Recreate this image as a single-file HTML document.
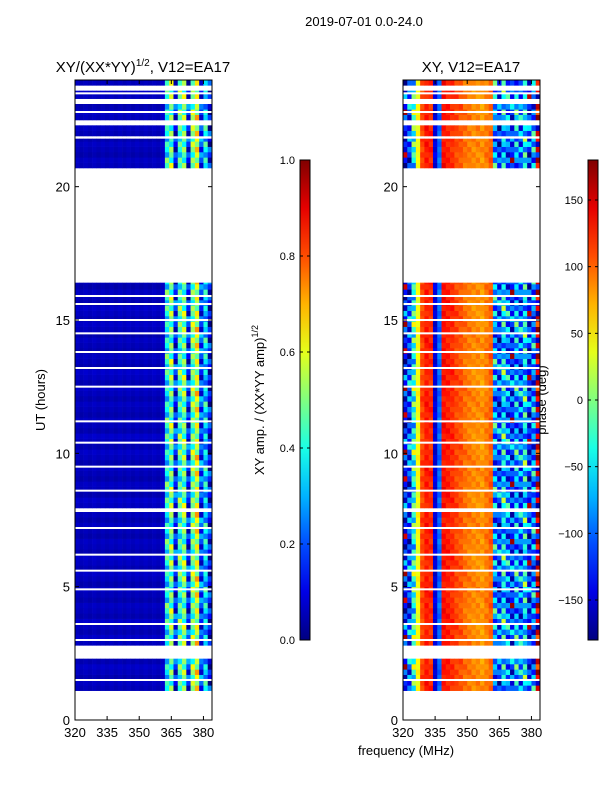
<!DOCTYPE html>
<html><head><meta charset="utf-8"><style>
body{margin:0;background:#fff;}
svg{font-family:"Liberation Sans","DejaVu Sans",sans-serif;}
</style></head><body>
<svg id="fig" width="600" height="800" xmlns="http://www.w3.org/2000/svg">
<rect width="600" height="800" fill="#fff"/>
<text x="364" y="26" font-size="13" text-anchor="middle">2019-07-01 0.0-24.0</text>
<text x="143" y="72" font-size="15" text-anchor="middle">XY/(XX*YY)<tspan font-size="10" dy="-6">1/2</tspan><tspan dy="6">, V12=EA17</tspan></text>
<text x="471" y="72" font-size="15" text-anchor="middle">XY, V12=EA17</text>
<text x="45" y="400" font-size="13" text-anchor="middle" transform="rotate(-90 45 400)">UT (hours)</text>
<text x="406" y="755" font-size="13" text-anchor="middle">frequency (MHz)</text>
<text x="264" y="400" font-size="13" text-anchor="middle" transform="rotate(-90 264 400)">XY amp. / (XX*YY amp)<tspan font-size="9" dy="-6">1/2</tspan></text>
<text x="546" y="400" font-size="13" text-anchor="middle" transform="rotate(-90 546 400)">phase (deg)</text>
<g id="left"></g>
<g id="right"></g>
<g id="cbs"></g>
</svg>
<script>
const freqBins=[320,322,324,326,328,330,332,334,336,338,340,342,344,346,348,350,352,354,356,358,360,362,364,366,368,370,372,374,376,378,380,382];
const ampProfile=[0.06,0.05,0.06,0.05,0.06,0.05,0.06,0.05,0.06,0.05,0.06,0.05,0.06,0.05,0.06,0.05,0.06,0.05,0.06,0.05,0.07,0.35,0.45,0.12,0.4,0.45,0.12,0.45,0.55,0.15,0.3,0.08];
const phaseProfile=[-150,-120,-40,40,110,125,120,-150,-100,130,125,120,110,105,95,90,85,85,80,90,100,-90,-120,-60,-100,-130,-80,-110,-60,-140,-100,160];
const validIntervals=[[1.1,2.3],[2.8,7.8],[7.95,16.4],[20.7,21.8],[21.9,22.3],[22.5,23.1],[23.3,23.6],[23.8,24]];
const thinGaps=[1.5,3.0,3.6,4.9,5.6,6.2,7.2,8.6,9.5,10.4,11.2,12.5,13.2,13.8,14.5,15.0,15.6,15.9,22.8,23.5];
const ampJitter=[0.0,0.1,-0.08,0.05,0.15,-0.05,0.08,0.18,-0.08,0.03,0.1,-0.1];
const phaseJitter=[0,30,-20,60,-40,15,90,-10,45,-30,20,-60];
const xTicks=[320,335,350,365,380];
const yTicks=[0,5,10,15,20];
const ampTicks=[0.0,0.2,0.4,0.6,0.8,1.0];
const phaseTicks=[-150,-100,-50,0,50,100,150];

const NS="http://www.w3.org/2000/svg";
function jet(t){t=Math.max(0,Math.min(1,t));
 const r=Math.max(0,Math.min(1,1.5-Math.abs(4*t-3))),g=Math.max(0,Math.min(1,1.5-Math.abs(4*t-2))),b=Math.max(0,Math.min(1,1.5-Math.abs(4*t-1)));
 return `rgb(${Math.round(r*255)},${Math.round(g*255)},${Math.round(b*255)})`;}
function el(tag,a,p){const e=document.createElementNS(NS,tag);for(const k in a)e.setAttribute(k,a[k]);p.appendChild(e);return e;}
const yTop=80,yBot=720;
const yScale=h=>yBot-(h/24)*(yBot-yTop);
function panel(gid,x0,x1,valFn){
 const g=document.getElementById(gid);
 const xs=f=>x0+(f-320)/64*(x1-x0);
 const dt=0.2;
 validIntervals.forEach(([a,b],ii)=>{
  for(let t=a,ri=0;t<b-1e-6;t+=dt,ri++){
   const t2=Math.min(b,t+dt);
   freqBins.forEach((f,i)=>{
    const r=el('rect',{x:xs(f),y:yScale(t2),width:xs(f+2)-xs(f)+0.3,height:yScale(t)-yScale(t2)+0.3,fill:valFn(i,ri+ii*3,t)},g);
    
    
   });
  }
 });
 thinGaps.forEach(h=>{const r=el('rect',{x:x0,y:yScale(h)-1,width:x1-x0,height:2,fill:'#fff'},g);
  });
 el('rect',{x:x0,y:yTop,width:x1-x0,height:yBot-yTop,fill:'none',stroke:'#000','stroke-width':1},g);
 xTicks.forEach(v=>{const x=xs(v);el('line',{x1:x,x2:x,y1:yBot,y2:yBot-4,stroke:'#000'},g);el('line',{x1:x,x2:x,y1:yTop,y2:yTop+4,stroke:'#000'},g);
  const t=el('text',{x:x,y:yBot+17,'font-size':13,'text-anchor':'middle'},g);t.textContent=v;
  });
 yTicks.forEach(v=>{const y=yScale(v);el('line',{x1:x0,x2:x0+4,y1:y,y2:y,stroke:'#000'},g);el('line',{x1:x1,x2:x1-4,y1:y,y2:y,stroke:'#000'},g);
  const t=el('text',{x:x0-5,y:y+5,'font-size':13,'text-anchor':'end'},g);t.textContent=v;
  });
}
panel('left',75,212,(i,ri,t)=>{let v=ampProfile[i];if(i>=21)v+=ampJitter[(ri+i)%ampJitter.length];else v+=ampJitter[ri%ampJitter.length]*0.1;return jet(v);});
panel('right',403,540,(i,ri,t)=>{let p=phaseProfile[i];const j=phaseJitter[(ri+i)%phaseJitter.length];p+= i>=21||i<3 ? j : j*0.15;
 while(p>180)p-=360;while(p<-180)p+=360;return jet((p+180)/360);});
function colorbar(x,vals,lo,hi,id,name){
 const g=document.getElementById('cbs');
 const d=el('defs',{},g);const lg=el('linearGradient',{id:id,x1:0,y1:1,x2:0,y2:0},d);
 for(let k=0;k<=10;k++)el('stop',{offset:k/10,'stop-color':jet(k/10)},lg);
 const r=el('rect',{x:x,y:160,width:10,height:480,fill:`url(#${id})`,stroke:'#000'},g);
 
 vals.forEach(v=>{const y=640-(v-lo)/(hi-lo)*480;el('line',{x1:x,x2:x+3,y1:y,y2:y,stroke:'#000'},g);el('line',{x1:x+10,x2:x+7,y1:y,y2:y,stroke:'#000'},g);
  const t=el('text',{x:x-5,y:y+4,'font-size':11,'text-anchor':'end'},g);t.textContent=(lo<0?String(v).replace('-','\u2212'):v.toFixed(1));
  });
}
colorbar(300,ampTicks,0,1,'g1','amplitude-colorbar');
colorbar(588,phaseTicks,-180,180,'g2','phase-colorbar');
</script>
</body></html>
